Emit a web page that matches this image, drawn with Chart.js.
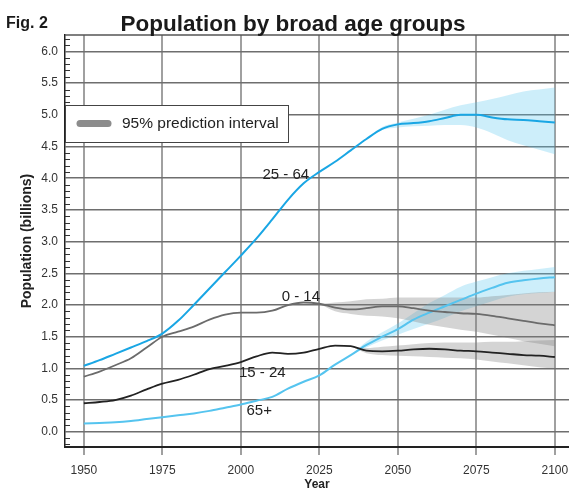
<!DOCTYPE html>
<html>
<head>
<meta charset="utf-8">
<script src="https://cdn.jsdelivr.net/npm/chart.js@4.4.1/dist/chart.umd.min.js"></script>
<style>
  html, body { margin: 0; padding: 0; background: #fff; }
  #wrap { width: 569px; height: 490px; }
</style>
</head>
<body>
<div id="wrap"><canvas id="popChart" width="569" height="490"></canvas></div>
<script>
// years on the x axis (every 5 years)
const years = [1950, 1955, 1960, 1965, 1970, 1975, 1980, 1985, 1990, 1995,
               2000, 2005, 2010, 2015, 2020, 2025, 2030, 2035, 2040, 2045,
               2050, 2055, 2060, 2065, 2070, 2075, 2080, 2085, 2090, 2095, 2100];

// median population, billions
const age2564 = [1.04, 1.13, 1.23, 1.33, 1.43, 1.55, 1.75, 2.00, 2.26, 2.52,
                 2.78, 3.05, 3.35, 3.66, 3.92, 4.10, 4.26, 4.44, 4.62, 4.78,
                 4.85, 4.87, 4.90, 4.95, 5.00, 5.00, 4.96, 4.93, 4.92, 4.90, 4.88];
const age014  = [0.87, 0.95, 1.05, 1.16, 1.33, 1.50, 1.58, 1.66, 1.77, 1.85,
                 1.88, 1.88, 1.91, 2.00, 2.04, 2.02, 1.96, 1.93, 1.95, 1.98,
                 1.98, 1.95, 1.91, 1.89, 1.87, 1.86, 1.83, 1.79, 1.75, 1.71, 1.68];
const age1524 = [0.45, 0.47, 0.50, 0.57, 0.67, 0.76, 0.82, 0.90, 0.99, 1.04,
                 1.10, 1.19, 1.25, 1.23, 1.25, 1.31, 1.36, 1.35, 1.28, 1.27,
                 1.28, 1.30, 1.31, 1.30, 1.28, 1.27, 1.25, 1.23, 1.21, 1.20, 1.18];
const age65   = [0.13, 0.14, 0.15, 0.17, 0.20, 0.23, 0.26, 0.29, 0.33, 0.38,
                 0.43, 0.49, 0.55, 0.68, 0.79, 0.89, 1.06, 1.21, 1.37, 1.50,
                 1.62, 1.77, 1.88, 1.98, 2.08, 2.18, 2.27, 2.35, 2.39, 2.42, 2.44];

// 95% prediction intervals (null = no interval yet)
const hi2564 = [null, null, null, null, null, null, null, null, null, null,
                null, null, null, null, null, null, null, null, 4.62, 4.81,
                4.88, 4.94, 5.00, 5.08, 5.15, 5.20, 5.25, 5.31, 5.37, 5.40, 5.43];
const lo2564 = [null, null, null, null, null, null, null, null, null, null,
                null, null, null, null, null, null, null, null, 4.62, 4.76,
                4.80, 4.82, 4.83, 4.84, 4.84, 4.80, 4.71, 4.60, 4.52, 4.45, 4.38];
const hi014  = [null, null, null, null, null, null, null, null, null, null,
                null, null, null, null, null, 2.02, 2.04, 2.06, 2.09, 2.10,
                2.12, 2.12, 2.12, 2.12, 2.12, 2.12, 2.14, 2.16, 2.18, 2.20, 2.21];
const lo014  = [null, null, null, null, null, null, null, null, null, null,
                null, null, null, null, null, 2.02, 1.90, 1.86, 1.83, 1.82,
                1.79, 1.74, 1.69, 1.65, 1.61, 1.58, 1.53, 1.48, 1.43, 1.39, 1.35];
const hi1524 = [null, null, null, null, null, null, null, null, null, null,
                null, null, null, null, null, null, null, 1.35, 1.32, 1.34,
                1.36, 1.38, 1.40, 1.41, 1.41, 1.41, 1.42, 1.42, 1.43, 1.44, 1.45];
const lo1524 = [null, null, null, null, null, null, null, null, null, null,
                null, null, null, null, null, null, null, 1.35, 1.24, 1.21,
                1.20, 1.19, 1.18, 1.17, 1.16, 1.14, 1.11, 1.08, 1.05, 1.02, 1.00];
const hi65   = [null, null, null, null, null, null, null, null, null, null,
                null, null, null, null, null, null, null, 1.21, 1.42, 1.57,
                1.71, 1.87, 2.03, 2.16, 2.29, 2.37, 2.44, 2.50, 2.54, 2.57, 2.60];
const lo65   = [null, null, null, null, null, null, null, null, null, null,
                null, null, null, null, null, null, null, 1.21, 1.33, 1.44,
                1.53, 1.62, 1.71, 1.80, 1.90, 1.98, 2.06, 2.13, 2.17, 2.19, 2.21];

// axis ticks
const xTicks = [1950, 1975, 2000, 2025, 2050, 2075, 2100];
const yTicks = [0.0, 0.5, 1.0, 1.5, 2.0, 2.5, 3.0, 3.5, 4.0, 4.5, 5.0, 5.5, 6.0];

// in-plot series labels (anchored at year / value, left baseline)
const labelText  = ['25 - 64', '0 - 14', '15 - 24', '65+'];
const labelYear  = [2006.9, 2013.0, 1999.4, 2001.8];
const labelValue = [3.99, 2.07, 0.87, 0.27];

const FONT = '"Liberation Sans", Arial, Helvetica, sans-serif';
const GREY_BAND = 'rgba(128,128,128,0.34)';
const BLUE_BAND = 'rgba(90,200,240,0.30)';

function pts(arr) {
    return years.map((yr, i) => ({ x: yr, y: arr[i] }));
}

function band(arr, color, fillTo) {
    return {
        data: pts(arr),
        borderWidth: 0,
        pointRadius: 0,
        backgroundColor: color,
        fill: fillTo,
        cubicInterpolationMode: 'monotone',
        order: 2
    };
}

function line(arr, color, w) {
    return {
        data: pts(arr),
        borderColor: color,
        borderWidth: w,
        pointRadius: 0,
        fill: false,
        cubicInterpolationMode: 'monotone',
        order: 1
    };
}

// frame, minor ticks, legend box, labels and titles
const decor = {
    id: 'decor',
    afterDraw(chart) {
        const { ctx, chartArea: a, scales: { x, y } } = chart;
        ctx.save();

        // top frame line
        ctx.strokeStyle = '#555';
        ctx.lineWidth = 1.5;
        ctx.beginPath();
        ctx.moveTo(a.left, a.top);
        ctx.lineTo(a.right, a.top);
        ctx.stroke();

        // minor ticks on the y axis, every 0.1
        ctx.strokeStyle = '#333';
        ctx.lineWidth = 1;
        ctx.beginPath();
        for (let k = -2; k <= 62; k++) {
            if (k % 5 === 0) continue;
            const py = Math.round(y.getPixelForValue(k / 10)) + 0.5;
            ctx.moveTo(a.left, py);
            ctx.lineTo(a.left + 5, py);
        }
        ctx.stroke();

        // legend box
        ctx.fillStyle = '#fff';
        ctx.strokeStyle = '#444';
        ctx.lineWidth = 1;
        ctx.fillRect(65.5, 105.5, 223, 37);
        ctx.strokeRect(65.5, 105.5, 223, 37);
        ctx.strokeStyle = '#8c8c8c';
        ctx.lineWidth = 7;
        ctx.lineCap = 'round';
        ctx.beginPath();
        ctx.moveTo(80, 123.5);
        ctx.lineTo(108, 123.5);
        ctx.stroke();
        ctx.fillStyle = '#222';
        ctx.font = '15.5px ' + FONT;
        ctx.textAlign = 'left';
        ctx.textBaseline = 'middle';
        ctx.fillText('95% prediction interval', 122, 124);

        // series labels
        ctx.font = '15px ' + FONT;
        ctx.textBaseline = 'alphabetic';
        labelText.forEach((t, i) => {
            ctx.fillText(t, x.getPixelForValue(labelYear[i]), y.getPixelForValue(labelValue[i]));
        });

        // titles
        ctx.fillStyle = '#1a1a1a';
        ctx.font = 'bold 22.5px ' + FONT;
        ctx.textAlign = 'center';
        ctx.fillText('Population by broad age groups', 293, 31);
        ctx.font = 'bold 16px ' + FONT;
        ctx.textAlign = 'left';
        ctx.fillText('Fig. 2', 6, 28);

        ctx.restore();
    }
};

new Chart(document.getElementById('popChart'), {
    type: 'line',
    data: {
        datasets: [
            band(hi014, GREY_BAND, '+1'),
            band(lo014, GREY_BAND, false),
            band(hi1524, GREY_BAND, '+1'),
            band(lo1524, GREY_BAND, false),
            band(hi2564, BLUE_BAND, '+1'),
            band(lo2564, BLUE_BAND, false),
            band(hi65, BLUE_BAND, '+1'),
            band(lo65, BLUE_BAND, false),
            line(age014, '#6b6b6b', 1.8),
            line(age1524, '#222222', 1.8),
            line(age65, '#55c4ef', 2),
            line(age2564, '#19a6e4', 2)
        ]
    },
    options: {
        responsive: false,
        animation: false,
        layout: { padding: { top: 35, right: 0, bottom: 0, left: 0 } },
        plugins: {
            legend: { display: false },
            tooltip: { enabled: false },
            title: { display: false }
        },
        scales: {
            x: {
                type: 'linear',
                min: 1944,
                max: 2104.5,
                afterBuildTicks: s => { s.ticks = xTicks.map(v => ({ value: v })); },
                afterFit: s => { s.height = 43; s.paddingLeft = 0; s.paddingRight = 0; },
                grid: { color: '#a0a0a0', lineWidth: 2, drawTicks: true, tickLength: 8, tickColor: '#a0a0a0', tickWidth: 2 },
                border: { color: '#222', width: 2 },
                ticks: {
                    font: { family: FONT, size: 12 },
                    color: '#333',
                    padding: 8,
                    maxRotation: 0,
                    autoSkip: false,
                    callback: v => String(v)
                },
                title: {
                    display: true,
                    text: 'Year',
                    color: '#222',
                    font: { family: FONT, size: 12, weight: 'bold', lineHeight: 1 },
                    padding: { top: 0, bottom: -1 }
                }
            },
            y: {
                min: -0.24,
                max: 6.26,
                afterBuildTicks: s => { s.ticks = yTicks.map(v => ({ value: v })); },
                afterFit: s => { s.width = 65; s.paddingTop = 0; s.paddingBottom = 0; },
                grid: { color: '#6e6e6e', lineWidth: 1.5, drawTicks: false },
                border: { color: '#222', width: 1.5 },
                ticks: {
                    font: { family: FONT, size: 12 },
                    color: '#333',
                    padding: 7,
                    callback: v => Number(v).toFixed(1)
                },
                title: {
                    display: true,
                    text: 'Population (billions)',
                    color: '#222',
                    font: { family: FONT, size: 14, weight: 'bold', lineHeight: 1 },
                    padding: { top: 20, bottom: 0 }
                }
            }
        }
    },
    plugins: [decor]
});
</script>
</body>
</html>
